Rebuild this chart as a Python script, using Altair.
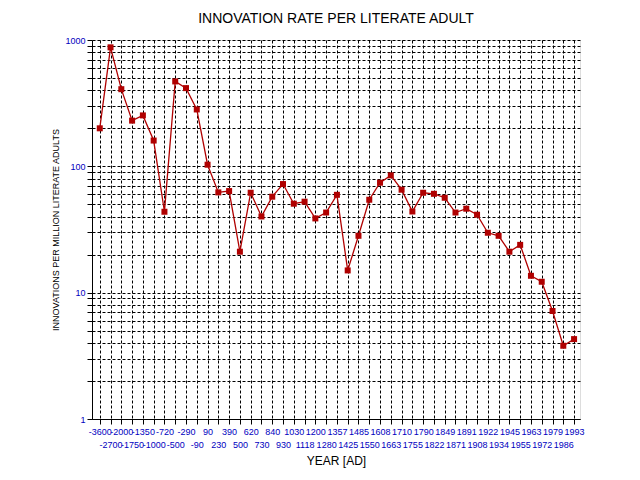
import json
import altair as alt
import pandas as pd

years = ["-3600", "-2700", "-2000", "-1750", "-1350", "-1000", "-720", "-500",
         "-290", "-90", "90", "230", "390", "500", "620", "730", "840", "930",
         "1030", "1118", "1200", "1280", "1357", "1425", "1485", "1550", "1608",
         "1663", "1710", "1755", "1790", "1822", "1849", "1871", "1891", "1908",
         "1922", "1934", "1945", "1955", "1963", "1972", "1979", "1986", "1993"]

rates = [200, 875, 408, 230, 253, 160, 43.7, 470, 416, 282, 103, 62.2, 63.7,
         21.1, 61.8, 40.1, 57.5, 72.4, 50.6, 52.5, 38.7, 43.1, 59.5, 15.0, 28.2,
         54.4, 74.2, 84.8, 65.3, 43.9, 61.8, 60.6, 56.4, 43.1, 46.2, 41.4, 29.8,
         28.2, 21.1, 23.9, 13.6, 12.2, 7.16, 3.80, 4.29]

y_ticks = [m * 10 ** e for e in range(3) for m in range(1, 10)] + [1000]

df = pd.DataFrame({"idx": list(range(len(years))), "year": years, "rate": rates})

label_arr = json.dumps(years)
x_label_expr = (f"datum.value % 2 == 1 ? ['', {label_arr}[datum.value]] "
                f": {label_arr}[datum.value]")

red = "#b00000"
blue = "#0000c0"
font = "Liberation Sans"

base = alt.Chart(df).encode(
    x=alt.X("idx:Q",
            scale=alt.Scale(domain=[-0.72, 44.55], nice=False, zero=False),
            axis=alt.Axis(values=list(range(len(years))), labelExpr=x_label_expr,
                          title="YEAR [AD]", labelOverlap=False, labelBound=False,
                          labelFlush=False, labelLineHeight=13, labelPadding=3,
                          labelColor=blue, labelFontSize=9, labelFont=font,
                          titleFont=font, titleFontSize=12, titleFontWeight="normal",
                          titleColor="black", titlePadding=6,
                          tickColor="black", tickSize=5, domainColor="black",
                          gridColor="black", gridDash=[3, 2], gridOpacity=1)),
    y=alt.Y("rate:Q",
            scale=alt.Scale(type="log", domain=[1, 1000], nice=False),
            axis=alt.Axis(values=y_ticks,
                          labelExpr="indexof([1,10,100,1000], datum.value) >= 0 ? format(datum.value, 'd') : ''",
                          title="INNOVATIONS PER MILLION LITERATE ADULTS",
                          labelOverlap=False, labelColor=blue, labelFontSize=9,
                          labelFont=font, labelPadding=2, labelBound=False, labelFlush=False,
                          titleFont=font, titleFontSize=9, titleFontWeight="normal",
                          titleColor="black", titlePadding=4,
                          tickColor="black", tickSize=5, domainColor="black",
                          gridColor="black", gridDash=[3, 2], gridOpacity=1)),
)

line = base.mark_line(color=red, strokeWidth=1.3)
pts = base.mark_square(color=red, size=36, opacity=1)

chart = (line + pts).properties(
    width=488, height=379,
    title=alt.TitleParams("INNOVATION RATE PER LITERATE ADULT", font=font,
                          fontSize=14, fontWeight="normal", color="black", offset=10),
    autosize=alt.AutoSizeParams(type="none"),
    padding={"left": 92, "top": 40, "right": 60, "bottom": 61},
).configure_view(stroke="black", strokeWidth=1).configure(background="white")

chart.save("out.html", embed_options={"renderer": "svg", "actions": False})
